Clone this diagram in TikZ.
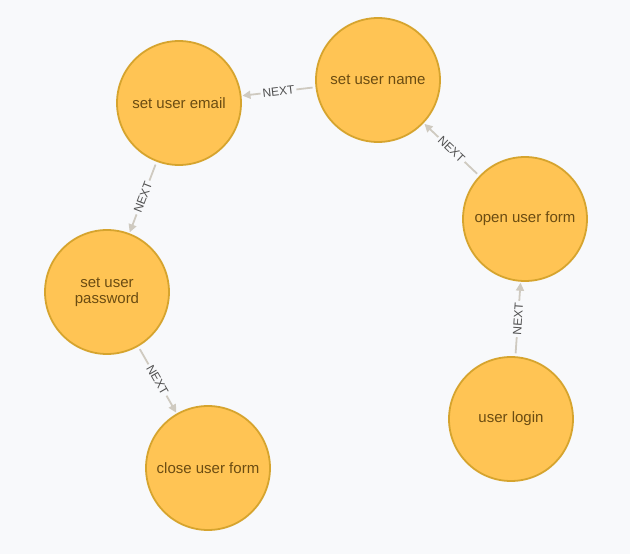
\documentclass[tikz,border=0pt]{standalone}
\usepackage{fontspec}
\setmainfont{Liberation Sans}
\usetikzlibrary{arrows.meta}
\definecolor{bgcol}{HTML}{F8F9FB}
\definecolor{nodefill}{HTML}{FFC454}
\definecolor{nodeline}{HTML}{D6A42E}
\definecolor{nodetext}{HTML}{6B4C12}
\definecolor{edgecol}{HTML}{CFCAC0}
\definecolor{labeltext}{HTML}{505050}
\begin{document}
\begin{tikzpicture}[x=1pt,y=-1pt,
  state/.style={circle, fill=nodefill, draw=nodeline, line width=1.8pt,
    minimum size=124pt, inner sep=0pt, text=nodetext,
    font=\fontsize{15}{16}\selectfont, align=center},
  rel/.style={draw=edgecol, line width=1.8pt,
    -{Triangle[length=8pt,width=8pt]}, shorten >=1pt, shorten <=3pt},
  rellabel/.style={fill=bgcol, text=labeltext,
    font=\fontsize{12}{12}\selectfont, inner sep=2pt, sloped, midway}]
\fill[bgcol] (0,0) rectangle (630,554);
\useasboundingbox (0,0) rectangle (630,554);

% states of the user-form workflow
\node[state] (name)   at (378,80)  {set user name};
\node[state] (email)  at (179,103) {set user email};
\node[state] (open)   at (525,219) {open user form};
\node[state] (passwd) at (107,292) {set user\\password};
\node[state] (login)  at (511,419) {user login};
\node[state] (close)  at (208,468) {close user form};

% NEXT transitions
\draw[rel] (login)  -- node[rellabel]{NEXT} (open);
\draw[rel] (open)   -- node[rellabel]{NEXT} (name);
\draw[rel] (name)   -- node[rellabel]{NEXT} (email);
\draw[rel] (email)  -- node[rellabel]{NEXT} (passwd);
\draw[rel] (passwd) -- node[rellabel]{NEXT} (close);
\end{tikzpicture}
\end{document}
